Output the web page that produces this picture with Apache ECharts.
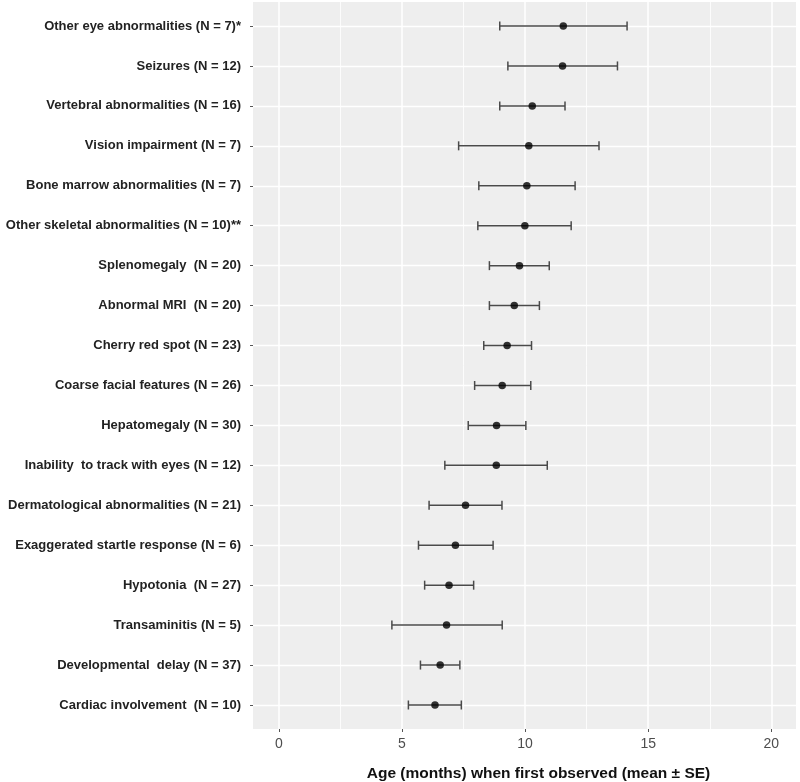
<!DOCTYPE html>
<html>
<head>
<meta charset="utf-8">
<script src="https://cdn.jsdelivr.net/npm/echarts@6/dist/echarts.min.js"></script>
<style>html,body{margin:0;padding:0;background:#fff}#c{width:800px;height:782px}</style>
</head>
<body>
<div id="c"></div>
<script>
// Categories, top to bottom
const categories = [
  "Other eye abnormalities (N = 7)*",
  "Seizures (N = 12)",
  "Vertebral abnormalities (N = 16)",
  "Vision impairment (N = 7)",
  "Bone marrow abnormalities (N = 7)",
  "Other skeletal abnormalities (N = 10)**",
  "Splenomegaly  (N = 20)",
  "Abnormal MRI  (N = 20)",
  "Cherry red spot (N = 23)",
  "Coarse facial features (N = 26)",
  "Hepatomegaly (N = 30)",
  "Inability  to track with eyes (N = 12)",
  "Dermatological abnormalities (N = 21)",
  "Exaggerated startle response (N = 6)",
  "Hypotonia  (N = 27)",
  "Transaminitis (N = 5)",
  "Developmental  delay (N = 37)",
  "Cardiac involvement  (N = 10)"
];
const meanAge = [11.55, 11.52, 10.29, 10.15, 10.07, 9.99, 9.77, 9.56, 9.27, 9.07, 8.84, 8.83, 7.58, 7.17, 6.91, 6.81, 6.55, 6.34];
const lowerSE = [8.97, 9.30, 8.97, 7.30, 8.12, 8.08, 8.55, 8.55, 8.32, 7.95, 7.69, 6.74, 6.10, 5.67, 5.92, 4.59, 5.75, 5.26];
const upperSE = [14.14, 13.75, 11.62, 13.00, 12.03, 11.87, 10.98, 10.58, 10.26, 10.23, 10.03, 10.90, 9.06, 8.70, 7.91, 9.07, 7.35, 7.41];
const majorTicks = [0, 5, 10, 15, 20];
const minorTicks = [2.5, 7.5, 12.5, 17.5];
const xTitle = "Age (months) when first observed (mean \u00b1 SE)";

const XMIN = -1.05, XMAX = 21;
const font = "'Liberation Sans', Arial, sans-serif";

const errData = categories.map((c, i) => [lowerSE[i], upperSE[i], i]);
const meanData = categories.map((c, i) => [meanAge[i], i]);

const chart = echarts.init(document.getElementById('c'), null, {renderer: 'canvas'});
chart.setOption({
  animation: false,
  backgroundColor: '#ffffff',
  grid: [
    {left: 253, right: 4, top: 2, bottom: 53, show: true, backgroundColor: '#eeeeee', borderWidth: 0,
     containLabel: false, outerBoundsMode: 'none'},
    {left: 253, right: 4, top: 26, bottom: 77, show: false, containLabel: false, outerBoundsMode: 'none'}
  ],
  xAxis: [
    {
      type: 'value', gridIndex: 0, min: XMIN, max: XMAX,
      name: xTitle, nameLocation: 'middle', nameGap: 37,
      nameTextStyle: {fontFamily: font, fontSize: 15.5, fontWeight: 'bold', color: '#111', padding: [0, 0, 0, 28]},
      axisLine: {show: false, onZero: false},
      axisTick: {show: true, length: 3, lineStyle: {color: '#555', width: 1}, customValues: majorTicks},
      axisLabel: {show: true, customValues: majorTicks, margin: 8, fontFamily: font, fontSize: 14, color: '#4d4d4d'},
      splitLine: {show: true, lineStyle: {color: '#ffffff', width: 1.5}}
    },
    {
      type: 'value', gridIndex: 0, min: XMIN, max: XMAX,
      axisLine: {show: false, onZero: false},
      axisTick: {show: false, customValues: minorTicks},
      axisLabel: {show: false, customValues: minorTicks},
      splitLine: {show: true, lineStyle: {color: '#ffffff', width: 0.8}}
    },
    {
      type: 'value', gridIndex: 1, min: XMIN, max: XMAX, show: false,
      axisLine: {onZero: false},
      splitLine: {show: false}
    }
  ],
  yAxis: [
    {type: 'value', gridIndex: 0, min: 0, max: 1, show: false, axisLine: {onZero: false}, splitLine: {show: false}},
    {
      type: 'category', gridIndex: 1, data: categories, inverse: true, boundaryGap: false,
      axisLine: {show: false, onZero: false},
      axisTick: {show: true, length: 3, lineStyle: {color: '#555', width: 1}},
      axisLabel: {margin: 12, fontFamily: font, fontSize: 13, fontWeight: 'bold', color: '#222', interval: 0},
      splitLine: {show: true, lineStyle: {color: '#ffffff', width: 1.4}}
    }
  ],
  series: [
    {
      type: 'custom', xAxisIndex: 2, yAxisIndex: 1,
      data: errData,
      encode: {x: [0, 1], y: 2},
      renderItem: function (params, api) {
        const y = api.value(2);
        const p1 = api.coord([api.value(0), y]);
        const p2 = api.coord([api.value(1), y]);
        const h = 4.5;
        const style = {stroke: '#4a4a4a', lineWidth: 1.5};
        return {
          type: 'group',
          children: [
            {type: 'line', shape: {x1: p1[0], y1: p1[1], x2: p2[0], y2: p2[1]}, style: style},
            {type: 'line', shape: {x1: p1[0], y1: p1[1] - h, x2: p1[0], y2: p1[1] + h}, style: style},
            {type: 'line', shape: {x1: p2[0], y1: p2[1] - h, x2: p2[0], y2: p2[1] + h}, style: style}
          ]
        };
      },
      z: 2
    },
    {
      type: 'scatter', xAxisIndex: 2, yAxisIndex: 1,
      data: meanData, symbol: 'circle', symbolSize: 7.5,
      itemStyle: {color: '#000000'}, z: 3
    }
  ]
});
</script>
</body>
</html>
